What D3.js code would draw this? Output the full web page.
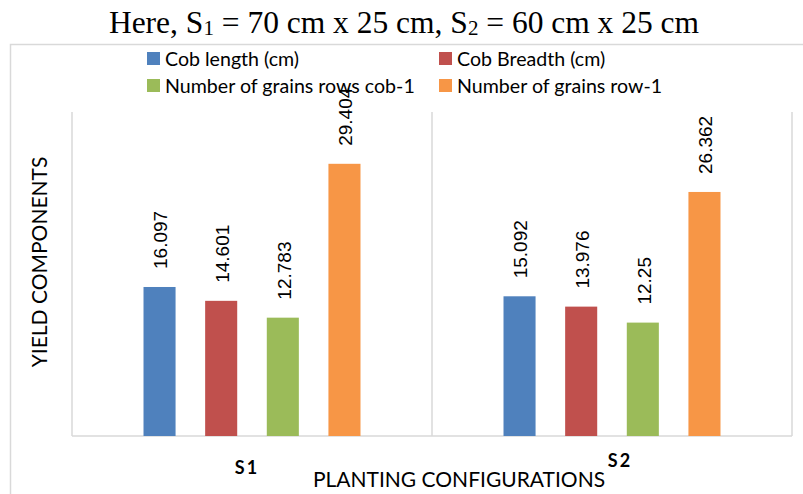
<!DOCTYPE html>
<html>
<head>
<meta charset="utf-8">
<script src="https://cdn.jsdelivr.net/npm/d3@7"></script>
<style>
  html, body { margin: 0; padding: 0; background: #fff; }
  svg { display: block; }
</style>
</head>
<body>
<svg id="chart" width="803" height="494"></svg>
<script>
// ---- data ----
const categories = ["S1", "S2"];
const seriesNames = ["Cob length (cm)", "Cob Breadth (cm)", "Number of grains rows cob-1", "Number of grains row-1"];
const seriesColors = ["#4f81bd", "#c0504d", "#9bbb59", "#f79646"];
const cobLength = [16.097, 15.092];
const cobBreadth = [14.601, 13.976];
const grainRowsPerCob = [12.783, 12.25];
const grainsPerRow = [29.404, 26.362];
const valueLabels = [["16.097", "15.092"], ["14.601", "13.976"], ["12.783", "12.25"], ["29.404", "26.362"]];
const seriesValues = [cobLength, cobBreadth, grainRowsPerCob, grainsPerRow];
const yDomain = [0, 35];

// ---- layout ----
const W = 803, H = 494;
const plot = { left: 72, right: 792, top: 112, bottom: 436 };
const grid = "#d9d9d9";
const uiFont = "Lato, 'Open Sans', sans-serif";

const svg = d3.select("#chart");

// outer chart border
svg.append("path")
  .attr("d", `M10.5,${H} L10.5,44.5 L${W},44.5`)
  .attr("fill", "none").attr("stroke", grid).attr("stroke-width", 1.5);

// title
const title = svg.append("text")
  .attr("x", 404).attr("y", 33)
  .attr("text-anchor", "middle")
  .attr("font-family", "'Liberation Serif', 'Times New Roman', serif")
  .attr("font-size", 31.5).attr("fill", "#000");
title.append("tspan").text("Here, S");
title.append("tspan").attr("font-size", 21).attr("dy", 2).text("1");
title.append("tspan").attr("dy", -2).text(" = 70 cm x 25 cm, S");
title.append("tspan").attr("font-size", 21).attr("dy", 2).text("2");
title.append("tspan").attr("dy", -2).text(" = 60 cm x 25 cm");

// scales
const x = d3.scaleBand().domain(categories).range([plot.left, plot.right]).padding(0);
const xs = d3.scaleBand().domain(d3.range(seriesNames.length))
  .range([0, x.bandwidth()]).paddingInner(0.48).paddingOuter(1.16);
const y = d3.scaleLinear().domain(yDomain).range([plot.bottom, plot.top]);

// vertical separators (category boundaries)
const bounds = [plot.left, ...categories.map(c => x(c) + x.bandwidth())];
svg.append("g").selectAll("line").data(bounds).join("line")
  .attr("x1", d => d).attr("x2", d => d)
  .attr("y1", plot.top).attr("y2", plot.bottom)
  .attr("stroke", grid).attr("stroke-width", 1.5);

// baseline
svg.append("line")
  .attr("x1", plot.left).attr("x2", plot.right)
  .attr("y1", y(0)).attr("y2", y(0))
  .attr("stroke", grid).attr("stroke-width", 1.5);

// bars
const barData = [];
seriesValues.forEach((vals, si) => vals.forEach((v, ci) => barData.push({ si, ci, v, label: valueLabels[si][ci] })));

const bars = svg.append("g");
bars.selectAll("rect").data(barData).join("rect")
  .attr("x", d => x(categories[d.ci]) + xs(d.si))
  .attr("width", xs.bandwidth())
  .attr("y", d => y(d.v))
  .attr("height", d => y(0) - y(d.v))
  .attr("fill", d => seriesColors[d.si]);

// value labels (rotated)
bars.selectAll("text").data(barData).join("text")
  .attr("transform", d => `translate(${x(categories[d.ci]) + xs(d.si) + xs.bandwidth() / 2 + 1},${y(d.v) - 18}) rotate(-90)`)
  .attr("dy", "0.36em")
  .attr("text-anchor", "start")
  .attr("font-family", "'Liberation Sans', Arial, sans-serif")
  .attr("font-size", 19).attr("fill", "#000")
  .text(d => d.label);

// legend
const legendPos = [[147, 52], [439, 52], [147, 79], [439, 79]];
const lg = svg.append("g").selectAll("g").data(seriesNames).join("g")
  .attr("transform", (d, i) => `translate(${legendPos[i][0]},${legendPos[i][1]})`);
lg.append("rect").attr("width", 13).attr("height", 13).attr("fill", (d, i) => seriesColors[i]);
lg.append("text").attr("x", 18).attr("y", 6.5).attr("dy", "0.36em")
  .attr("font-family", uiFont).attr("font-size", 19.6).attr("fill", "#000")
  .text(d => d);

// category labels
const catOffsets = { S1: [-5, 474], S2: [8, 467] };
svg.append("g").selectAll("text").data(categories).join("text")
  .attr("x", d => x(d) + x.bandwidth() / 2 + catOffsets[d][0])
  .attr("y", d => catOffsets[d][1])
  .attr("text-anchor", "middle")
  .attr("font-family", uiFont).attr("font-weight", "bold")
  .attr("font-size", 18).attr("letter-spacing", 2).attr("fill", "#000")
  .text(d => d);

// axis titles
svg.append("text")
  .attr("x", 459).attr("y", 487)
  .attr("text-anchor", "middle")
  .attr("font-family", uiFont).attr("font-size", 21).attr("fill", "#000")
  .text("PLANTING CONFIGURATIONS");

svg.append("text")
  .attr("transform", `translate(47,${(plot.top + plot.bottom) / 2 - 12}) rotate(-90)`)
  .attr("text-anchor", "middle")
  .attr("font-family", uiFont).attr("font-size", 21).attr("fill", "#000")
  .text("YIELD COMPONENTS");
</script>
</body>
</html>
